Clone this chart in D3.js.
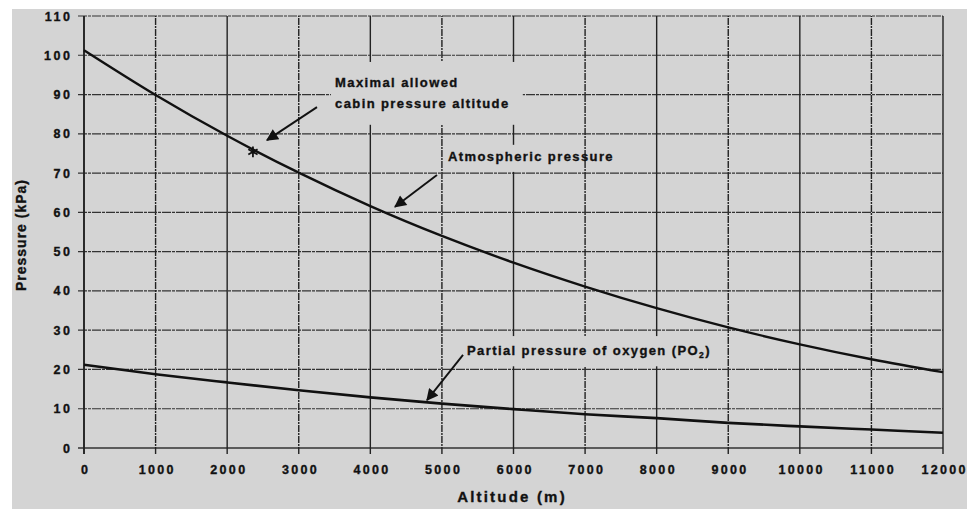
<!DOCTYPE html>
<html><head><meta charset="utf-8">
<script src="https://cdn.jsdelivr.net/npm/d3@7"></script>
<style>
html,body{margin:0;padding:0;background:#fff;}
svg text{font-family:"Liberation Sans",Arial,sans-serif;font-weight:bold;fill:#111;stroke:#111;stroke-width:0.35px;}
</style></head><body>
<svg id="c" width="978" height="509"></svg>
<script>
const altitudes = [0,1000,2000,3000,4000,5000,6000,7000,8000,9000,10000,11000,12000];
const atmospheric = [101.3,89.9,79.5,70.1,61.6,54.0,47.2,41.1,35.6,30.7,26.4,22.6,19.3];
const oxygen = [21.2,18.8,16.7,14.7,12.9,11.3,9.9,8.6,7.6,6.4,5.5,4.7,3.9];
const xTicks = [0,1000,2000,3000,4000,5000,6000,7000,8000,9000,10000,11000,12000];
const yTicks = [0,10,20,30,40,50,60,70,80,90,100,110];
const marker = {alt:2360, p:75.4};

const BG = "#d4d4d4";
const svg = d3.select("#c");
svg.append("rect").attr("x",12).attr("y",9).attr("width",955).attr("height",500).attr("fill",BG);

const x = d3.scaleLinear().domain([0,12000]).range([84,943]);
const y = d3.scaleLinear().domain([0,110]).range([448,16]);

// grid
const g = svg.append("g");
g.selectAll("line.h").data(yTicks).join("line")
 .attr("x1",x(0)-6).attr("x2",x(12000)).attr("y1",d=>y(d)).attr("y2",d=>y(d))
 .attr("stroke","#333").attr("stroke-width",d=>d===0?1.7:1.2).attr("stroke-dasharray",d=>d===0?null:"9,1,3,1");
g.selectAll("line.v").data(xTicks).join("line")
 .attr("y1",y(0)+6).attr("y2",y(110)).attr("x1",d=>x(d)).attr("x2",d=>x(d))
 .attr("stroke","#222").attr("stroke-width",d=>d===0?1.9:1.4).attr("stroke-dasharray",d=>(d===0||d%2000===0)?null:"7,1,2,1");

// label backgrounds that hide grid (as in original)
function mask(a0,p0,a1,p1){
  svg.append("rect").attr("x",x(a0)).attr("y",y(p0)).attr("width",x(a1)-x(a0)).attr("height",y(p1)-y(p0)).attr("fill",BG);
}
mask(3450,98.3,6130,82.3);
mask(5050,77.2,6350,70.3);
mask(5300,28.5,8830,20.8);

// axes labels
const LS = 2.6;
const yAxis = d3.axisLeft(y).tickValues(yTicks).tickSize(0).tickPadding(14-LS);
const ya = svg.append("g").attr("transform",`translate(${x(0)},0)`).call(yAxis);
ya.select(".domain").remove();
ya.selectAll("text").attr("font-size",12.5).attr("letter-spacing",LS).attr("fill","#111").attr("font-family","Liberation Sans, Arial, sans-serif").attr("font-weight","bold");

const xAxis = d3.axisBottom(x).tickValues(xTicks).tickSize(0).tickPadding(17).tickFormat(d3.format("d"));
const xa = svg.append("g").attr("transform",`translate(0,${y(0)})`).call(xAxis);
xa.select(".domain").remove();
xa.selectAll("text").attr("font-size",12.5).attr("letter-spacing",2.3).attr("dx",1.2).attr("fill","#111").attr("font-family","Liberation Sans, Arial, sans-serif").attr("font-weight","bold");

// curves
const line = d3.line().x((d,i)=>x(altitudes[i])).y(d=>y(d)).curve(d3.curveMonotoneX);
svg.append("path").attr("d",line(atmospheric)).attr("fill","none").attr("stroke","#111").attr("stroke-width",2.4);
svg.append("path").attr("d",line(oxygen)).attr("fill","none").attr("stroke","#111").attr("stroke-width",2.6);

// marker
svg.append("path").attr("d",d3.symbol(d3.symbolAsterisk,80)()).attr("transform",`translate(${x(marker.alt)},${y(marker.p)})`).attr("stroke","#111").attr("stroke-width",1.8).attr("fill","none");

// arrows
const defs = svg.append("defs");
defs.append("marker").attr("id","ah").attr("viewBox","0 0 10 10").attr("refX",9).attr("refY",5)
 .attr("markerWidth",16).attr("markerHeight",12).attr("markerUnits","userSpaceOnUse").attr("orient","auto")
 .append("path").attr("d","M0,0 L10,5 L0,10 z").attr("fill","#111");
function arrow(a1,p1,a2,p2){
  svg.append("line").attr("x1",x(a1)).attr("y1",y(p1)).attr("x2",x(a2)).attr("y2",y(p2))
   .attr("stroke","#111").attr("stroke-width",1.9).attr("marker-end","url(#ah)");
}
arrow(3255,86.8,2557,78.4);
arrow(4931,69.5,4345,61.4);
arrow(5295,23.7,4792,12.2);

function label(t,a,p){
  return svg.append("text").attr("x",x(a)).attr("y",y(p)).attr("font-size",13).attr("letter-spacing",1.4).text(t);
}
label("Maximal allowed",3507,91.8);
label("cabin pressure altitude",3507,86.7);
label("Atmospheric pressure",5085,73.2);
const pt = label("Partial pressure of oxygen (PO",5351,23.8);
pt.append("tspan").attr("font-size",8.5).attr("dy",3).text("2");
pt.append("tspan").attr("dy",-3).text(")");

svg.append("text").attr("x",512).attr("y",502).attr("text-anchor","middle").attr("font-size",15).attr("letter-spacing",2.2).text("Altitude (m)");
svg.append("text").attr("transform","translate(26,235) rotate(-90)").attr("text-anchor","middle").attr("font-size",14).attr("letter-spacing",1).text("Pressure (kPa)");
</script>
</body></html>
